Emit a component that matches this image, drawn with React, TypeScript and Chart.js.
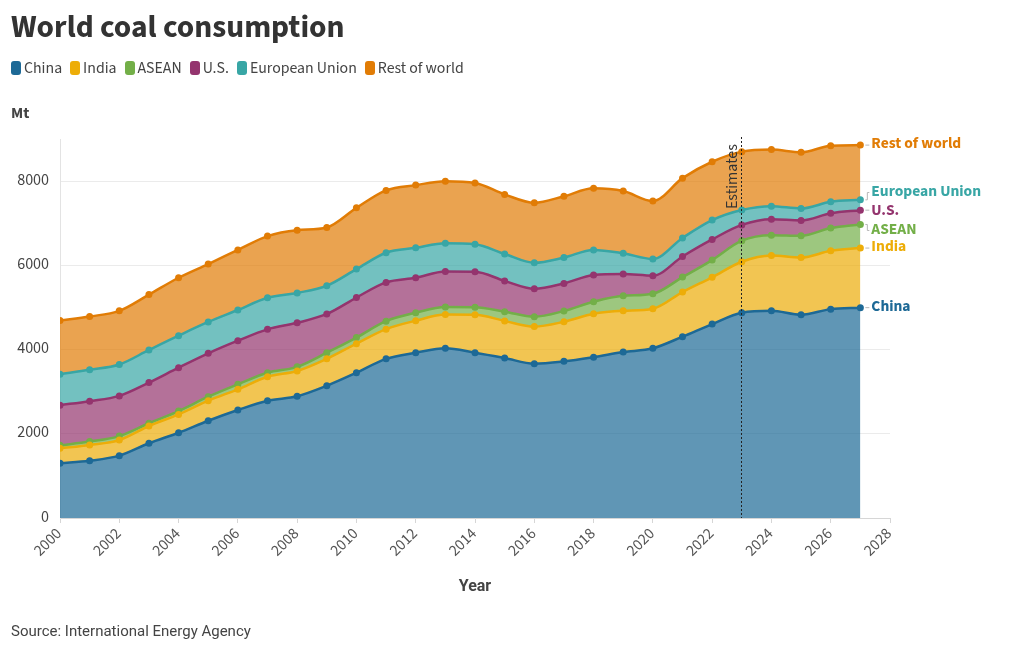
import React, { useEffect, useRef } from "react";
import { Chart, registerables } from "chart.js";

Chart.register(...registerables);

const years = [
  2000, 2001, 2002, 2003, 2004, 2005, 2006, 2007, 2008, 2009, 2010, 2011, 2012, 2013,
  2014, 2015, 2016, 2017, 2018, 2019, 2020, 2021, 2022, 2023, 2024, 2025, 2026, 2027,
];
const china = [
  1300, 1360, 1480, 1775, 2025, 2310, 2565, 2785, 2890, 3140, 3450, 3780, 3925, 4030,
  3925, 3800, 3665, 3720, 3820, 3940, 4030, 4305, 4605, 4875, 4920, 4825, 4960, 4995,
];
const india = [
  355, 375, 370, 410, 435, 475, 490, 570, 600, 640, 690, 705, 760, 800,
  900, 880, 880, 940, 1030, 980, 940, 1060, 1110, 1210, 1315, 1360, 1385, 1415,
];
const asean = [
  70, 80, 95, 65, 80, 95, 120, 95, 100, 145, 145, 190, 190, 180,
  180, 220, 235, 255, 285, 355, 355, 355, 410, 500, 480, 515, 540, 560,
];
const us = [
  955, 960, 955, 965, 1030, 1030, 1035, 1030, 1045, 920, 950, 920, 830, 845,
  845, 730, 665, 655, 635, 520, 430, 490, 490, 375, 380, 365, 350, 340,
];
const eu = [
  735, 745, 745, 775, 760, 745, 730, 750, 710, 670, 675, 705, 710, 670,
  650, 640, 615, 615, 595, 490, 395, 440, 460, 355, 310, 285, 275, 245,
];
const restOfWorld = [
  1275, 1265, 1275, 1315, 1375, 1375, 1425, 1465, 1490, 1385, 1455, 1480, 1490, 1470,
  1455, 1415, 1425, 1455, 1465, 1480, 1375, 1420, 1385, 1385, 1345, 1335, 1330, 1300,
];

const seriesNames = ["China", "India", "ASEAN", "U.S.", "European Union", "Rest of world"];
const seriesValues = [china, india, asean, us, eu, restOfWorld];
const seriesColors = ["#1d6996", "#edad08", "#73af48", "#94346e", "#38a6a5", "#e17c05"];
const seriesFills = [
  "rgba(29,105,150,0.7)",
  "rgba(237,173,8,0.7)",
  "rgba(115,175,72,0.7)",
  "rgba(148,52,110,0.7)",
  "rgba(56,166,165,0.7)",
  "rgba(225,124,5,0.7)",
];
const yTickValues = [0, 2000, 4000, 6000, 8000];
const xMin = 2000;
const xMax = 2028;
const yMax = 9000;
const estimatesYear = 2023;
const estimatesLabel = "Estimates";

const FONT = '"Source Sans 3", "Source Sans Pro", Lato, "Noto Sans", sans-serif';
const NARROW = '"Liberation Sans Narrow", Roboto, sans-serif';

const endLabelsPlugin = {
  id: "endLabels",
  afterDatasetsDraw(chart: any) {
    const ctx = chart.ctx;
    const items = chart.data.datasets.map((ds: any, i: number) => {
      const meta = chart.getDatasetMeta(i);
      const pt = meta.data[meta.data.length - 1];
      return { px: pt.x, py: pt.y, ly: pt.y, label: ds.label, color: ds.borderColor };
    });
    const sorted = [...items].sort((a: any, b: any) => a.py - b.py);
    const gap = 19;
    let clusters: any[] = sorted.map((it: any) => ({ items: [it], center: it.py }));
    let changed = true;
    while (changed) {
      changed = false;
      for (let k = 0; k < clusters.length - 1; k++) {
        const a = clusters[k];
        const b = clusters[k + 1];
        const aBottom = a.center + ((a.items.length - 1) * gap) / 2;
        const bTop = b.center - ((b.items.length - 1) * gap) / 2;
        if (bTop - aBottom < gap - 2) {
          const its = [...a.items, ...b.items];
          const center = its.reduce((s: number, x: any) => s + x.py, 0) / its.length;
          clusters.splice(k, 2, { items: its, center });
          changed = true;
          break;
        }
      }
    }
    clusters.forEach((c: any) =>
      c.items.forEach((it: any, j: number) => {
        it.ly = c.center + (j - (c.items.length - 1) / 2) * gap;
      })
    );
    ctx.save();
    items.forEach((it: any) => {
      ctx.strokeStyle = "#b8b8b8";
      ctx.lineWidth = 1;
      ctx.beginPath();
      if (Math.abs(it.ly - it.py) < 2) {
        ctx.moveTo(it.px + 5, it.py);
        ctx.lineTo(it.px + 9, it.py);
      } else {
        ctx.moveTo(it.px + 5, it.py);
        ctx.lineTo(it.px + 7, it.py);
        ctx.lineTo(it.px + 7, it.ly);
        ctx.lineTo(it.px + 9, it.ly);
      }
      ctx.stroke();
      ctx.fillStyle = it.color;
      ctx.font = `bold 15.5px ${FONT}`;
      ctx.textAlign = "left";
      ctx.textBaseline = "middle";
      ctx.fillText(it.label, it.px + 11, it.ly);
    });
    ctx.restore();
  },
};

const estimatesPlugin = {
  id: "estimates",
  afterDatasetsDraw(chart: any) {
    const ctx = chart.ctx;
    const x = chart.scales.x.getPixelForValue(estimatesYear);
    const { top, bottom } = chart.chartArea;
    ctx.save();
    ctx.strokeStyle = "#222";
    ctx.lineWidth = 1;
    ctx.setLineDash([2, 2]);
    ctx.beginPath();
    ctx.moveTo(Math.round(x) - 0.5, top - 2);
    ctx.lineTo(Math.round(x) - 0.5, bottom);
    ctx.stroke();
    ctx.setLineDash([]);
    ctx.translate(x - 5, top + 5);
    ctx.rotate(-Math.PI / 2);
    ctx.fillStyle = "#333";
    ctx.font = `16px ${FONT}`;
    ctx.textAlign = "right";
    ctx.textBaseline = "alphabetic";
    ctx.fillText(estimatesLabel, 0, 0);
    ctx.restore();
  },
};

export default function App() {
  const canvasRef = useRef<HTMLCanvasElement | null>(null);

  useEffect(() => {
    if (!canvasRef.current) return;
    const datasets = seriesNames.map((name, i) => ({
      label: name,
      data: years.map((yr, k) => ({ x: yr, y: seriesValues[i][k] })),
      borderColor: seriesColors[i],
      backgroundColor: seriesFills[i],
      pointBackgroundColor: seriesColors[i],
      pointBorderWidth: 0,
      pointRadius: 3.5,
      borderWidth: 2.5,
      fill: i === 0 ? "origin" : "-1",
      cubicInterpolationMode: "monotone" as const,
    }));
    const chart = new Chart(canvasRef.current, {
      type: "line",
      data: { datasets },
      plugins: [estimatesPlugin, endLabelsPlugin],
      options: {
        animation: false,
        responsive: false,
        maintainAspectRatio: false,
        devicePixelRatio: 1,
        layout: { padding: { top: 139, right: 130, left: 0, bottom: 72 } },
        plugins: { legend: { display: false }, tooltip: { enabled: false } },
        scales: {
          x: {
            type: "linear",
            min: xMin,
            max: xMax,
            ticks: {
              stepSize: 2,
              minRotation: 45,
              maxRotation: 45,
              padding: 2,
              color: "#555",
              font: { family: FONT, size: 16 },
              callback: (v: any) => String(v),
            },
            grid: { drawOnChartArea: false, drawTicks: true, tickLength: 5, color: "#d6d6d6" },
            border: { display: true, color: "#d6d6d6" },
            afterFit: (scale: any) => {
              scale.height = 60;
            },
          },
          y: {
            stacked: true,
            min: 0,
            max: yMax,
            afterBuildTicks: (scale: any) => {
              scale.ticks = yTickValues.map((v) => ({ value: v }));
            },
            ticks: {
              color: "#444",
              padding: 11,
              font: { family: FONT, size: 16 },
              callback: (v: any) => String(v),
            },
            grid: { color: "#ebebeb", drawTicks: false },
            border: { display: true, color: "#e3e3e3" },
            afterFit: (scale: any) => {
              scale.width = 60;
            },
          },
        },
      },
    });
    return () => chart.destroy();
  }, []);

  return (
    <div
      style={{
        position: "fixed",
        left: 0,
        top: 0,
        width: 1020,
        height: 650,
        background: "#fff",
        fontFamily: FONT,
        color: "#444",
      }}
    >
      <canvas
        ref={canvasRef}
        width={1020}
        height={650}
        style={{ position: "absolute", left: 0, top: 0, width: 1020, height: 650 }}
      />
      <div
        style={{
          position: "absolute",
          left: 11,
          top: 9,
          lineHeight: "38px",
          fontSize: 31.5,
          fontWeight: 700,
          color: "#333",
        }}
      >
        World coal consumption
      </div>
      <div
        style={{
          position: "absolute",
          left: 11,
          top: 58,
          height: 20,
          display: "flex",
          alignItems: "center",
          fontSize: 15.8,
          color: "#444",
        }}
      >
        {seriesNames.map((name, i) => (
          <div key={name} style={{ display: "flex", alignItems: "center", marginRight: 8 }}>
            <span
              style={{
                display: "inline-block",
                width: 10,
                height: 14,
                borderRadius: 3,
                background: seriesColors[i],
                marginRight: 3,
              }}
            />
            <span>{name}</span>
          </div>
        ))}
      </div>
      <div
        style={{
          position: "absolute",
          left: 11,
          top: 103,
          lineHeight: "20px",
          fontSize: 16,
          fontWeight: 700,
          color: "#444",
        }}
      >
        Mt
      </div>
      <div
        style={{
          position: "absolute",
          left: 375,
          width: 200,
          top: 576,
          lineHeight: "20px",
          textAlign: "center",
          fontSize: 16,
          fontWeight: 700,
          color: "#444",
          fontFamily: NARROW,
        }}
      >
        Year
      </div>
      <div
        style={{
          position: "absolute",
          left: 11,
          top: 621,
          lineHeight: "20px",
          fontSize: 15,
          color: "#444",
          fontFamily: NARROW,
        }}
      >
        Source: International Energy Agency
      </div>
    </div>
  );
}
